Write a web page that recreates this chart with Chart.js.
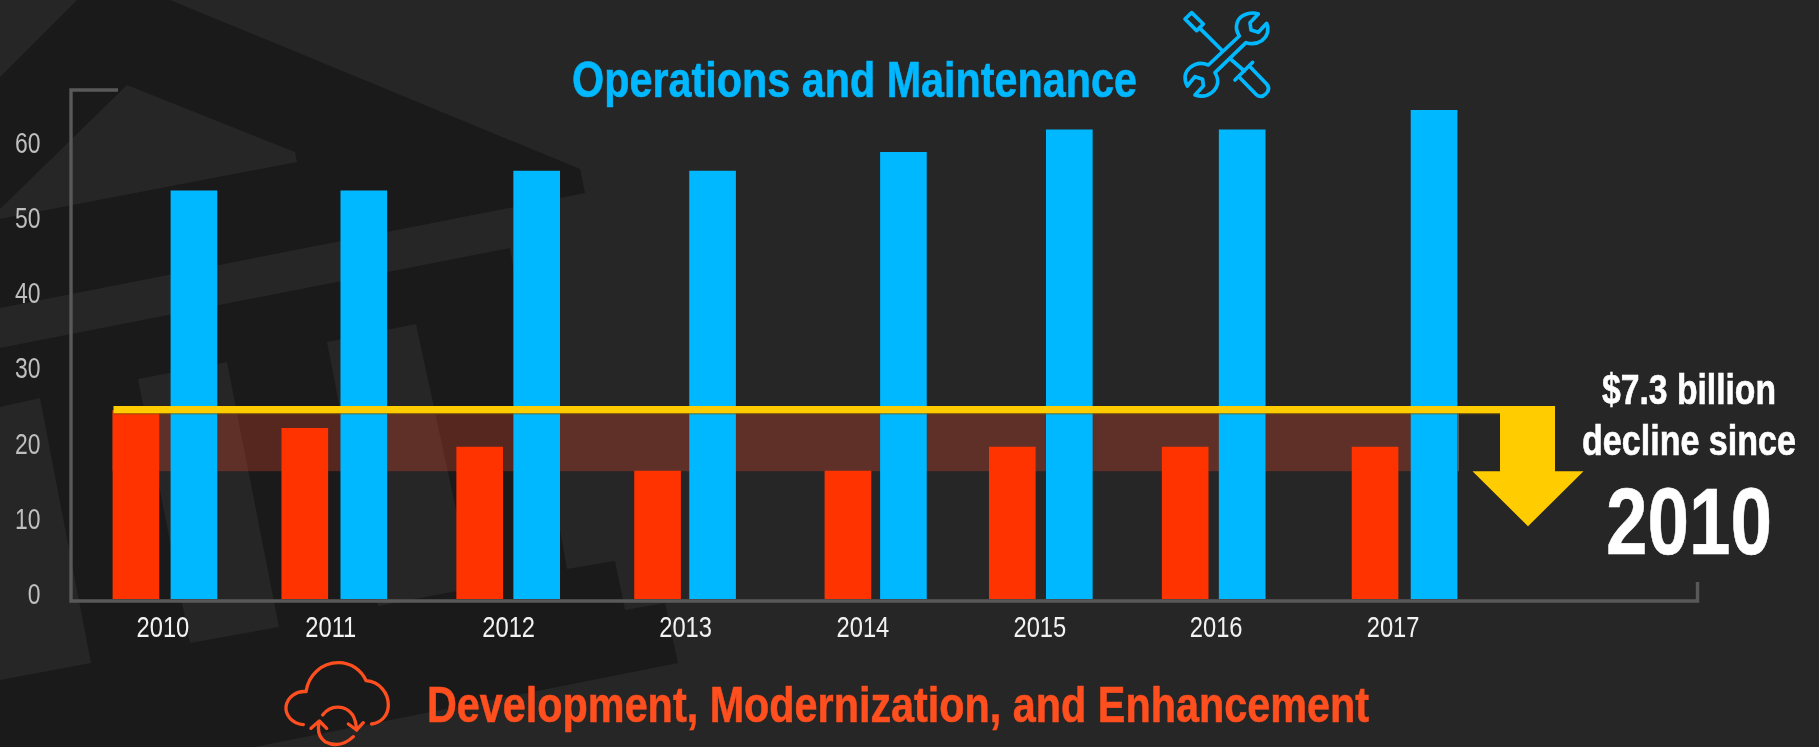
<!DOCTYPE html>
<html>
<head>
<meta charset="utf-8">
<script src="https://cdn.jsdelivr.net/npm/chart.js@4"></script>
<style>
html,body{margin:0;padding:0;background:#262626;overflow:hidden}
#stage{position:relative;width:1819px;height:747px;overflow:hidden;background:#262626}
#bg,#fg,#wrap{position:absolute;left:0;top:0;width:1819px;height:747px}
#fg text{font-family:"Liberation Sans",Arial,sans-serif;font-weight:700;stroke-width:0.6}
</style>
</head>
<body>
<div id="stage">
<svg id="bg" viewBox="0 0 1819 747">
  <g fill="#1a1a1a">
    <polygon points="77,0 170,0 580,169 585,193 0,308 0,77"/>
    <polygon points="0,348 510,248 567,569 615,561 625,610 665,603 678,663 254,747 0,747"/>
  </g>
  <g fill="#262626">
    <polygon points="0,209 127,85 295,152 297,162 0,219"/>
    <polygon points="0,407 40,398 91,663 0,680"/>
    <polygon points="138,379 227,362 279,627 190,643"/>
    <polygon points="327,342 416,324 473,588 378,606"/>
  </g>
</svg>
<div id="wrap"><canvas id="chart" width="1819" height="747"></canvas></div>
<svg id="fg" viewBox="0 0 1819 747">
  <text x="572" y="97" font-size="50" fill="#00b8ff" stroke="#00b8ff" textLength="565" lengthAdjust="spacingAndGlyphs">Operations and Maintenance</text>
  <text x="427" y="722" font-size="50" fill="#ff4f1f" stroke="#ff4f1f" textLength="942" lengthAdjust="spacingAndGlyphs">Development, Modernization, and Enhancement</text>
  <text x="1602" y="404" font-size="42" fill="#ffffff" stroke="#ffffff" textLength="174" lengthAdjust="spacingAndGlyphs">$7.3 billion</text>
  <text x="1582" y="455" font-size="42" fill="#ffffff" stroke="#ffffff" textLength="214" lengthAdjust="spacingAndGlyphs">decline since</text>
  <text x="1606" y="554" font-size="94" fill="#ffffff" stroke="#ffffff" textLength="166" lengthAdjust="spacingAndGlyphs">2010</text>
  <g transform="translate(1150,0) scale(0.3333)" fill="none" stroke="#00b8ff" stroke-width="11" stroke-linejoin="round" stroke-linecap="round">
    <path d="M125 38 L160 72 L140 92 L105 57 Z"/>
    <path d="M150 85 L215 150 M245 180 L283 213"/>
    <path d="M255 240 L308 187"/>
    <path d="M298 198 L350 252 C358 262 358 272 347 282 C337 292 326 290 318 283 L268 232"/>
    <path d="M268 108 C250 80 262 50 290 42 C303 38 315 38 325 42 L300 68 L303 90 L325 97 L350 70 C358 90 352 110 335 122 C320 132 303 133 288 128 L195 218 C208 240 205 262 185 278 C170 290 150 290 135 285 L160 258 L158 238 L135 230 L112 258 C100 235 105 215 120 203 C135 190 155 187 175 195 Z"/>
  </g>
  <g transform="translate(280,650) scale(0.3333)" fill="none" stroke="#ff4f1f" stroke-width="10" stroke-linejoin="round" stroke-linecap="round">
    <path d="M70 224 C35 220 16 195 18 170 C22 140 50 122 78 125 C85 75 125 38 175 38 C215 38 245 62 258 92 C300 95 325 130 325 165 C325 195 305 218 275 222"/>
    <path d="M128 195 C150 165 195 162 218 195 Q228 212 230 240"/>
    <path d="M205 222 L230 240 L250 218"/>
    <path d="M118 215 Q108 255 135 275 Q180 298 220 260"/>
    <path d="M93 235 L118 213 L140 235"/>
  </g>
</svg>
</div>
<script>
const categories = ["2010","2011","2012","2013","2014","2015","2016","2017"];
const developmentValues = [25.1,22.7,20.2,17.0,17.0,20.2,20.2,20.2];
const operationsValues  = [54.3,54.3,56.9,56.9,59.4,62.4,62.4,65.0];
const yTickStep = 10;
const yMax = 67.7;
const declineTop = 24.7;
const declineBottom = 17.0;

/* The reference's bars and year labels are hand-placed, so they sit slightly off an even category grid. */
const redShift  = [-27,-34,-35,-33,-18.5,-30,-33,-19];
const blueShift = [31,25,22,22,37,27,24,40];
const labelShift = [0,-8,-6,-5,-3.5,-2.5,-2,-1];
const narrow = 0.79; // horizontal squeeze standing in for a narrow typeface

function squeezeLabels(s){
  if(s._squeezed) return;
  s._squeezed=true;
  const drawLabels=s.drawLabels;
  s.drawLabels=function(area){
    const ctx=s.ctx, fill=ctx.fillText;
    ctx.fillText=function(t,x,y){
      ctx.save(); ctx.translate(x,y); ctx.scale(narrow,1);
      fill.call(ctx,t,0,0);
      ctx.restore();
    };
    drawLabels.call(s,area);
    delete ctx.fillText;
  };
}

const placement = {
  id:'placement',
  afterDatasetsUpdate(chart){
    [redShift,blueShift].forEach((shift,d)=>{
      chart.getDatasetMeta(d).data.forEach((el,i)=>{ el.x += shift[i]; });
    });
  }
};

const decorations = {
  id:'decorations',
  beforeDatasetsDraw(chart){
    const {ctx,chartArea:a,scales:{y}} = chart;
    const bandTop = y.getPixelForValue(declineTop), bandBot = y.getPixelForValue(declineBottom);
    ctx.save();
    ctx.fillStyle='rgba(255,77,46,0.26)';
    ctx.fillRect(a.left+37,bandTop-2,1346,bandBot-bandTop+2);
    ctx.fillStyle='#595959';
    ctx.fillRect(a.left+1383,bandTop,1,bandBot-bandTop);
    // axis frame
    ctx.strokeStyle='#595959'; ctx.lineWidth=3.4; ctx.lineJoin='miter';
    ctx.beginPath();
    ctx.moveTo(a.left+43,a.top);
    ctx.lineTo(a.left-4,a.top);
    ctx.lineTo(a.left-4,a.bottom+2);
    ctx.lineTo(a.left+1622.5,a.bottom+2);
    ctx.lineTo(a.left+1622.5,a.bottom-17);
    ctx.stroke();
    ctx.restore();
  },
  afterDatasetsDraw(chart){
    const {ctx,chartArea:a,scales:{y}} = chart;
    const bandTop = y.getPixelForValue(declineTop), bandBot = y.getPixelForValue(declineBottom);
    const lineTop = bandTop-7.3;
    ctx.save();
    ctx.fillStyle='rgba(110,80,10,0.9)';
    ctx.fillRect(a.left+38.5,bandTop,1386.5,1);
    ctx.fillStyle='#ffcc00';
    ctx.beginPath();
    ctx.moveTo(a.left+38.5,lineTop);
    ctx.lineTo(a.left+1480,lineTop);
    ctx.lineTo(a.left+1480,bandBot);
    ctx.lineTo(a.left+1508.5,bandBot);
    ctx.lineTo(a.left+1453,bandBot+55);
    ctx.lineTo(a.left+1397.5,bandBot);
    ctx.lineTo(a.left+1425,bandBot);
    ctx.lineTo(a.left+1425,bandTop);
    ctx.lineTo(a.left+38.5,bandTop);
    ctx.closePath();
    ctx.fill();
    ctx.restore();
  }
};

new Chart(document.getElementById('chart'),{
  type:'bar',
  data:{
    labels:categories,
    datasets:[
      {label:'Development, Modernization, and Enhancement',data:developmentValues,backgroundColor:'#ff3300',barThickness:46,grouped:false},
      {label:'Operations and Maintenance',data:operationsValues,backgroundColor:'#00b8ff',barThickness:46,grouped:false}
    ]
  },
  plugins:[placement,decorations],
  options:{
    responsive:false,
    animation:false,
    layout:{padding:{left:0,right:337,top:90,bottom:0}},
    plugins:{legend:{display:false},tooltip:{enabled:false},title:{display:false}},
    scales:{
      x:{
        grid:{display:false,drawTicks:false},
        border:{display:false},
        ticks:{color:'#f2f2f2',font:{family:'"Liberation Sans",Arial,sans-serif',size:30},padding:12,maxRotation:0,autoSkip:false},
        afterFit(s){ s.height=148; },
        afterUpdate(s){
          squeezeLabels(s);
          if(s._shifted) return;
          s._shifted=true;
          const base=s.getPixelForTick;
          s.getPixelForTick=function(i){ return base.call(s,i)+labelShift[i]; };
        }
      },
      y:{
        min:0,max:yMax,
        grid:{display:false,drawTicks:false},
        border:{display:false},
        ticks:{stepSize:yTickStep,includeBounds:false,color:'#bfbfbf',font:{family:'"Liberation Sans",Arial,sans-serif',size:29},padding:34.5,labelOffset:-3},
        afterFit(s){ s.width=75; },
        afterUpdate(s){ squeezeLabels(s); }
      }
    }
  }
});
</script>
</body>
</html>
